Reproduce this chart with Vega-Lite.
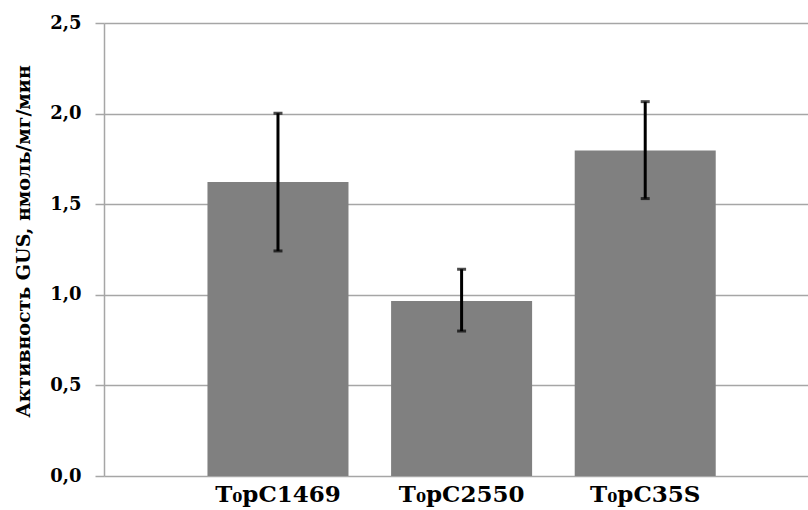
{
  "$schema": "https://vega.github.io/schema/vega-lite/v6.json",
  "width": 704,
  "height": 453,
  "autosize": {"type": "none"},
  "padding": {"left": 104, "top": 23, "right": 0, "bottom": 34},
  "background": "white",
  "config": {"view": {"stroke": null}},
  "data": {
    "values": [
      {"construct": "T₀pC1469", "value": 1.622, "lo": 1.242, "hi": 2.002},
      {"construct": "T₀pC2550", "value": 0.966, "lo": 0.800, "hi": 1.141},
      {"construct": "T₀pC35S", "value": 1.797, "lo": 1.531, "hi": 2.066}
    ]
  },
  "encoding": {
    "x": {
      "field": "construct",
      "type": "nominal",
      "sort": null,
      "scale": {"paddingInner": 0.232, "paddingOuter": 0.533, "align": 0.5286},
      "axis": {
        "title": null,
        "labelAngle": 0,
        "domain": false,
        "ticks": false,
        "labelFont": "DejaVu Serif",
        "labelFontWeight": "bold",
        "labelFontSize": 23,
        "labelColor": "#000000",
        "labelPadding": 7
      }
    }
  },
  "layer": [
    {
      "mark": {"type": "bar", "color": "#808080"},
      "encoding": {
        "y": {
          "field": "value",
          "type": "quantitative",
          "scale": {"domain": [0, 2.5], "nice": false},
          "axis": {
            "values": [0, 0.5, 1, 1.5, 2, 2.5],
            "labelExpr": "replace(format(datum.value, '.1f'), '.', ',')",
            "labelFont": "DejaVu Serif",
            "labelFontWeight": "bold",
            "labelFontSize": 18,
            "labelColor": "#000000",
            "labelPadding": 14,
            "tickSize": 9,
            "tickColor": "#a6a6a6",
            "tickWidth": 1.5,
            "domainColor": "#a6a6a6",
            "domainWidth": 1.5,
            "gridColor": "#a6a6a6",
            "gridWidth": 1.5,
            "grid": true,
            "title": "Активность GUS, нмоль/мг/мин",
            "titleFont": "DejaVu Serif",
            "titleFontWeight": "bold",
            "titleFontSize": 19,
            "titleColor": "#000000",
            "titleAngle": -90,
            "titleAlign": "center",
            "titleBaseline": "middle",
            "titleX": -81,
            "titleY": 218
          }
        }
      }
    },
    {
      "mark": {"type": "rule", "color": "#000000", "strokeWidth": 3},
      "encoding": {
        "y": {"field": "lo", "type": "quantitative"},
        "y2": {"field": "hi"}
      }
    },
    {
      "mark": {"type": "tick", "color": "#000000", "size": 9, "thickness": 3},
      "encoding": {"y": {"field": "lo", "type": "quantitative"}}
    },
    {
      "mark": {"type": "tick", "color": "#000000", "size": 9, "thickness": 3},
      "encoding": {"y": {"field": "hi", "type": "quantitative"}}
    }
  ]
}
